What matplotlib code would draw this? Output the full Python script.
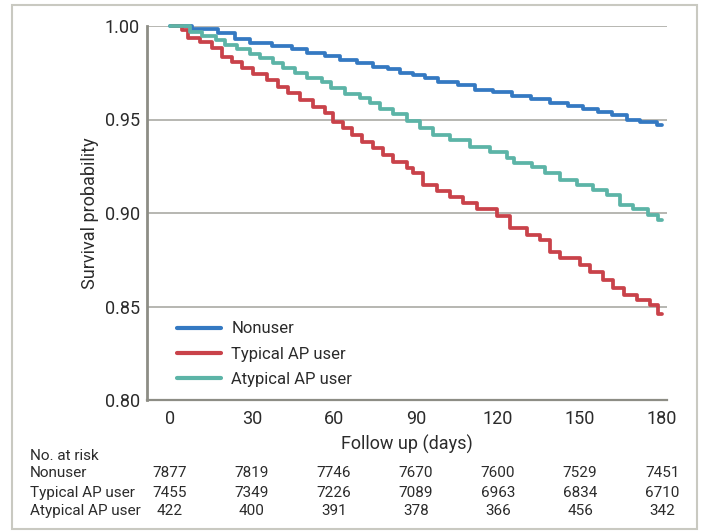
import matplotlib
matplotlib.use("Agg")
import matplotlib.pyplot as plt
from matplotlib.patches import Rectangle

plt.rcParams['font.family'] = ['Liberation Sans Narrow', 'Roboto', 'DejaVu Sans']

# curves (days, survival)
t_non = [0, 7.9, 17.6, 23.8, 29.3, 37.2, 44.5, 50, 56.7, 62.2, 68.3, 74.4, 79.8, 84, 89, 93.3, 98,
         105.4, 111.6, 118, 125, 132, 139, 145.6, 151, 156.6, 161.6, 167, 172, 178, 180]
s_non = [1.0, 0.9984, 0.996, 0.993, 0.991, 0.9895, 0.9877, 0.9857, 0.984, 0.982, 0.980, 0.978, 0.977,
         0.975, 0.974, 0.972, 0.970, 0.9684, 0.966, 0.9645, 0.9626, 0.961, 0.959, 0.957, 0.9555, 0.954,
         0.9524, 0.950, 0.9485, 0.947, 0.947]

t_typ = [0.6, 4.3, 6.7, 11, 15.2, 19, 22.6, 26.2, 30.5, 35.4, 39.6, 43.3, 47.6, 52.4, 56.7, 59.8, 63.4,
         66.5, 70.1, 74.4, 78, 81.7, 86.6, 89, 92.7, 97.6, 102.4, 107.3, 112.2, 119.5, 124.4, 130.5,
         135.4, 139, 142.7, 150, 153.7, 158.5, 162.2, 165.9, 170.8, 175.6, 178.5, 180]
s_typ = [1.0, 0.9979, 0.9934, 0.9916, 0.988, 0.9836, 0.981, 0.9774, 0.9742, 0.9711, 0.9676, 0.964,
         0.9604, 0.9569, 0.9533, 0.9488, 0.9456, 0.9417, 0.9381, 0.9346, 0.931, 0.9274, 0.9242, 0.9212,
         0.915, 0.912, 0.9084, 0.9052, 0.902, 0.8984, 0.8918, 0.8882, 0.8856, 0.8793, 0.8758, 0.8722,
         0.8686, 0.8642, 0.8597, 0.8561, 0.8535, 0.8508, 0.8458, 0.8458]

t_aty = [0, 4, 7.3, 11.6, 17, 20, 24.4, 29.3, 33, 37.7, 41.4, 45.7, 50, 55.5, 59, 64, 69.5, 73, 76.8,
         81.6, 86.6, 91.5, 96.3, 102.4, 109.8, 117, 123.2, 126, 132.3, 137.2, 142.7, 148.8, 154.9,
         159.8, 164.6, 169.5, 175, 178.5, 180]
s_aty = [1.0, 1.0, 0.997, 0.9948, 0.9925, 0.990, 0.9875, 0.985, 0.9827, 0.980, 0.9774, 0.9747, 0.972,
         0.970, 0.9667, 0.9635, 0.9617, 0.9587, 0.9556, 0.9528, 0.949, 0.9453, 0.9417, 0.939, 0.9355,
         0.9328, 0.9292, 0.927, 0.9248, 0.9212, 0.9176, 0.915, 0.9123, 0.9096, 0.9043, 0.902, 0.899,
         0.8965, 0.8965]

days = [0, 30, 60, 90, 120, 150, 180]
groups = ['Nonuser', 'Typical AP user', 'Atypical AP user']
risk_non = [7877, 7819, 7746, 7670, 7600, 7529, 7451]
risk_typ = [7455, 7349, 7226, 7089, 6963, 6834, 6710]
risk_aty = [422, 400, 391, 378, 366, 456, 342]

blue = '#3479c2'
red = '#c9424a'
teal = '#5cb4a7'
txt = '#2b2b2b'

fig = plt.figure(figsize=(7.04, 5.32), dpi=100)
fig.patches.append(Rectangle((12 / 704, 3 / 532), 685 / 704, 524 / 532, transform=fig.transFigure,
                             fill=False, edgecolor='#c9c9c1', linewidth=1.5))

ax = fig.add_axes([147 / 704, 1 - 400 / 532, 520 / 704, 374 / 532])
ax.set_xlim(-8.4, 181.8)
ax.set_ylim(0.80, 1.00)

for y in [0.85, 0.90, 0.95, 1.00]:
    ax.axhline(y, color='#a3a39c', lw=1.1, zorder=1)

kw = dict(where='post', lw=2.7, clip_on=False, zorder=3, solid_capstyle='round', solid_joinstyle='round')
ax.step(t_non, s_non, color=blue, label='Nonuser', **kw)
ax.step(t_typ, s_typ, color=red, label='Typical AP user', **kw)
ax.step(t_aty, s_aty, color=teal, label='Atypical AP user', **kw)

for side in ['top', 'right']:
    ax.spines[side].set_visible(False)
ax.spines['left'].set_color('#8d8d85')
ax.spines['left'].set_linewidth(2)
ax.spines['bottom'].set_color('#8d8d85')
ax.spines['bottom'].set_linewidth(1.6)

ax.set_xticks(days)
ax.set_yticks([0.80, 0.85, 0.90, 0.95, 1.00])
ax.set_yticklabels(['0.80', '0.85', '0.90', '0.95', '1.00'])
ax.tick_params(length=0, labelsize=13, colors=txt)
ax.tick_params(axis='x', pad=7)
ax.tick_params(axis='y', pad=5)

ax.set_xlabel('Follow up (days)', fontsize=13, color=txt, labelpad=5)
ax.set_ylabel('Survival probability', fontsize=13, color=txt, labelpad=4)

leg = ax.legend(loc='upper left', bbox_to_anchor=(0.058, 0.21), frameon=False, fontsize=12,
                handlelength=2.65, labelspacing=0.62, handletextpad=0.6, borderpad=0, borderaxespad=0)
for tx in leg.get_texts():
    tx.set_color(txt)
for ln in leg.get_lines():
    ln.set_linewidth(3)

# risk table
fig.text(30 / 704, 1 - 456 / 532, 'No. at risk', fontsize=11, color=txt, va='center')
rows = [risk_non, risk_typ, risk_aty]
row_y = [473, 493, 511]
for name, vals, yy in zip(groups, rows, row_y):
    fig.text(30 / 704, 1 - yy / 532, name, fontsize=11, color=txt, va='center')
    for d, v in zip(days, vals):
        xf = fig.transFigure.inverted().transform(ax.transData.transform((d, 0.8)))[0]
        fig.text(xf, 1 - yy / 532, str(v), fontsize=11, color=txt, va='center', ha='center')

fig.savefig('out.png', dpi=100)
